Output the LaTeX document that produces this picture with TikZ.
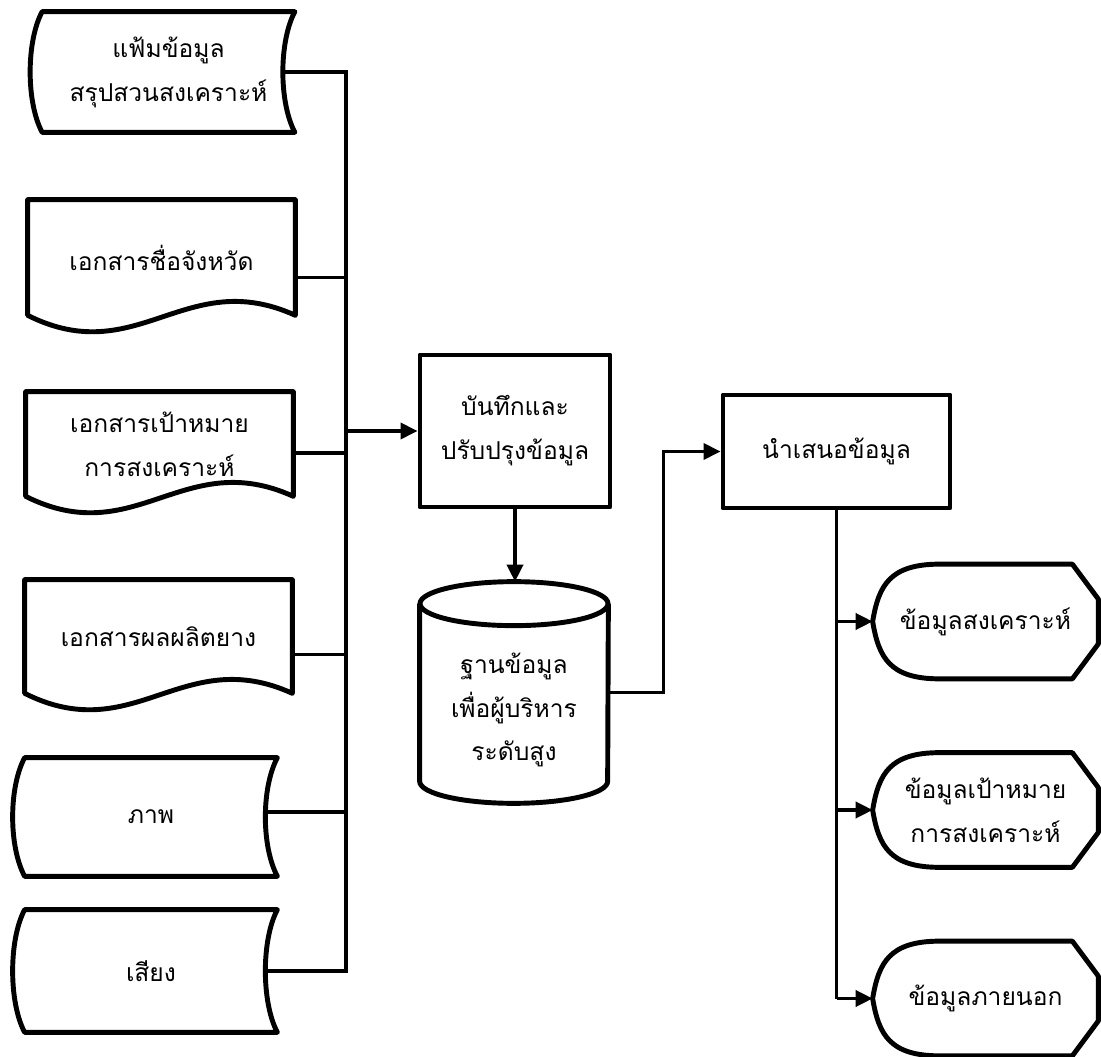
\documentclass[tikz,border=0pt]{standalone}
\usepackage{fontspec}
\newfontfamily\thaifont[Script=Thai]{Loma}
\usetikzlibrary{arrows.meta,calc}
\tikzset{
  line/.style={line width=2.1pt},
  edge/.style={line width=2.1pt,-{Triangle[length=3.4mm,width=3.2mm]}},
  outline/.style={line width=2.8pt,line join=round},
  txt/.style={font=\thaifont\fontsize{14pt}{25pt}\selectfont,align=center,inner sep=0pt},
  sdbox/.style={txt,minimum width=50.4mm,minimum height=24mm},
  docbox/.style={txt,minimum width=53.4mm},
  procbox/.style={txt,draw,outline},
  outbox/.style={txt,minimum width=45mm,minimum height=22.8mm},
  dblabel/.style={txt,yshift=-3.5mm}
}
\newcommand{\sdshape}[1]{\draw[outline] (#1.north west) -- (#1.north east)
  .. controls +(-16,-30) and +(-16,30) .. (#1.south east) -- (#1.south west)
  .. controls +(-16,30) and +(-16,-30) .. (#1.north west) -- cycle;}
\newcommand{\docshape}[1]{\draw[outline] (#1.south west) -- (#1.north west)
  -- (#1.north east) -- (#1.south east)
  .. controls +(-110,50) and +(110,-55) .. (#1.south west) -- cycle;}
\newcommand{\dispshape}[1]{\draw[outline] ($(#1.north west)+(67,0)$)
  -- ($(#1.north east)+(-26,0)$) -- ($(#1.north east)+(0,-35)$)
  -- ($(#1.south east)+(0,35)$) -- ($(#1.south east)+(-26,0)$)
  -- ($(#1.south west)+(67,0)$) .. controls +(-50,0) and +(6,-36) .. (#1.west)
  .. controls +(6,36) and +(-50,0) .. ($(#1.north west)+(67,0)$) -- cycle;}
\newcommand{\dbshape}[1]{\draw[outline] ($(#1.north west)+(0,-22)$)
  -- ($(#1.south west)+(0,22)$) arc[start angle=180,end angle=360,x radius=18.8mm,y radius=4.4mm]
  -- ($(#1.north east)+(0,-22)$);
  \draw[outline] ($(#1.north)+(0,-22)$) ellipse[x radius=18.8mm,y radius=4.4mm];}
\begin{document}
\begin{tikzpicture}[x=0.2mm,y=0.2mm]
  \fill[white] (0,0) rectangle (1101,1056);
  \useasboundingbox (0,0) rectangle (1101,1056);
  \node[sdbox] (sd1) at (168.5,984) {แฟ้มข้อมูล\\สรุปสวนสงเคราะห์};
  \node[docbox,minimum height=23mm] (doc2) at (161.5,798.5) {เอกสารชื่อจังหวัด};
  \node[docbox,minimum height=20.8mm] (doc3) at (159.5,612) {เอกสารเป้าหมาย\\การสงเคราะห์};
  \node[docbox,minimum height=22.6mm] (doc4) at (158.5,419.5) {เอกสารผลผลิตยาง};
  \node[sdbox,minimum height=23.6mm] (sd5) at (151,239) {ภาพ};
  \node[sdbox,minimum height=24.4mm] (sd6) at (151,85) {เสียง};
  \sdshape{sd1} \sdshape{sd5} \sdshape{sd6}
  \docshape{doc2} \docshape{doc3} \docshape{doc4}
  \coordinate (bus) at (346,0);
  \draw[line] ($(sd1.east)+(-12,0)$) -| (bus |- sd6.east) -- ($(sd6.east)+(-12,0)$);
  \draw[line] ($(doc2.east)+(0,-20)$) -- (bus |- {$(doc2.east)+(0,-20)$});
  \draw[line] ($(doc3.east)+(0,-9)$) -- (bus |- {$(doc3.east)+(0,-9)$});
  \draw[line] ($(doc4.east)+(0,-18)$) -- (bus |- {$(doc4.east)+(0,-18)$});
  \draw[line] ($(sd5.east)+(-12,5)$) -- (bus |- {$(sd5.east)+(0,5)$});
  \node[procbox,minimum width=38mm,minimum height=30.4mm] (p1) at (515,625) {บันทึกและ\\ปรับปรุงข้อมูล};
  \draw[edge] (bus |- p1.west) -- (p1.west);
  \node[txt,minimum width=37.6mm,minimum height=44.2mm,
    label={[dblabel]center:ฐานข้อมูล\\เพื่อผู้บริหาร\\ระดับสูง}] (db) at (514,363.5) {};
  \dbshape{db}
  \draw[edge] (p1.south) -- (p1.south |- db.north);
  \node[procbox,minimum width=45.4mm,minimum height=22.6mm] (p2) at (836.5,604.5) {นำเสนอข้อมูล};
  \draw[edge] (db.east) -- ++(55,0) |- (p2.west);
  \node[outbox] (o1) at (985.5,434.5) {ข้อมูลสงเคราะห์};
  \node[outbox] (o2) at (985.5,246) {ข้อมูลเป้าหมาย\\การสงเคราะห์};
  \node[outbox] (o3) at (985.5,57.5) {ข้อมูลภายนอก};
  \dispshape{o1} \dispshape{o2} \dispshape{o3}
  \draw[line] (p2.south) -- (p2.south |- o3.west);
  \draw[edge] (p2.south |- o1.west) -- (o1.west);
  \draw[edge] (p2.south |- o2.west) -- (o2.west);
  \draw[edge] (p2.south |- o3.west) -- (o3.west);
\end{tikzpicture}
\end{document}
